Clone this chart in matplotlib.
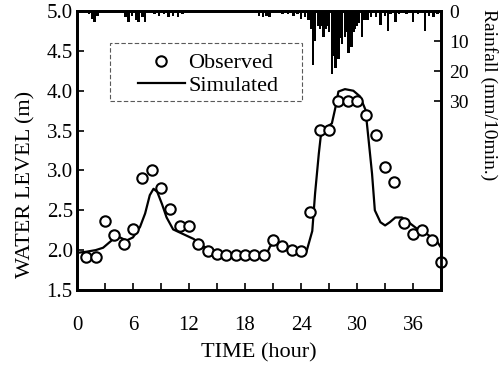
import numpy as np
import matplotlib
matplotlib.use("Agg")
import matplotlib.pyplot as plt
from matplotlib.patches import Rectangle
from matplotlib.ticker import MultipleLocator

plt.rcParams['font.family'] = ['Liberation Serif', 'DejaVu Serif']

# observed water level, hourly
obs_t = list(range(1, 40))
obs_h = [1.91, 1.91, 2.37, 2.19, 2.08, 2.26, 2.90, 3.01, 2.78, 2.51,
         2.30, 2.30, 2.08, 1.99, 1.95, 1.94, 1.94, 1.94, 1.94, 1.94,
         2.13, 2.05, 2.00, 1.99, 2.48, 3.51, 3.51, 3.87, 3.87, 3.87,
         3.70, 3.45, 3.04, 2.85, 2.34, 2.20, 2.25, 2.13, 1.85]

# simulated water level
sim_t = [0.3, 1.0, 2.0, 2.8, 3.9, 4.6, 5.3, 6.0, 6.75, 7.3, 7.8, 8.2, 8.6,
         9.1, 9.6, 10.3, 11.4, 12.5, 13.5, 14.6, 16.4, 18.5, 20.3, 20.7,
         21.4, 22.2, 23.0, 23.9, 24.6, 25.2, 25.5, 25.9, 26.1, 26.6, 27.3,
         27.7, 28.0, 28.7, 29.6, 30.3, 30.9, 31.2, 31.6, 31.9, 32.5, 33.0,
         33.5, 34.1, 34.8, 35.3, 36.4, 37.5, 38.5, 39.0]
sim_h = [1.97, 1.98, 2.00, 2.03, 2.14, 2.16, 2.12, 2.16, 2.29, 2.46, 2.69,
         2.77, 2.73, 2.58, 2.41, 2.26, 2.20, 2.14, 2.05, 1.99, 1.95, 1.94,
         1.95, 2.05, 2.10, 2.05, 2.00, 1.95, 1.99, 2.24, 2.71, 3.21, 3.42,
         3.53, 3.59, 3.80, 3.99, 4.02, 4.00, 3.93, 3.76, 3.42, 2.96, 2.50,
         2.35, 2.31, 2.35, 2.41, 2.41, 2.37, 2.27, 2.20, 2.12, 2.03]

# rainfall (mm/10min)
rain_t = [1.3, 1.6, 1.9, 2.2, 5.2, 5.5, 5.9, 6.3, 6.6, 7.0, 7.3,
          8.3, 8.8, 9.3, 9.8, 10.3, 10.8, 11.3,
          19.5, 19.9, 20.3, 20.6, 22.0, 22.6, 23.2, 23.6, 24.0, 24.4,
          24.8, 25.1, 25.3, 25.5, 25.8, 26.0, 26.2, 26.4, 26.6, 26.8, 27.0,
          27.3, 27.5, 27.7, 28.0, 28.2, 28.4, 28.7, 28.9, 29.1, 29.4, 29.6,
          29.8, 30.0, 30.2, 30.5, 30.8, 31.1,
          31.5, 32.0, 32.5, 33.0, 33.3, 33.6, 34.1, 34.5, 35.3, 36.0, 36.5,
          37.3, 37.7, 38.2, 38.6]
rain_mm = [1, 2.5, 3.5, 1.5, 2, 3.5, 1.5, 3, 3.5, 2, 3.5,
           1, 1.5, 1, 2, 1.5, 2, 1,
           1.5, 2, 1.5, 2, 1, 1, 1.5, 1, 2.5, 2,
           3, 6, 18, 10, 5, 6, 5, 8.5, 6, 5, 7,
           21, 15, 19, 16, 9, 11, 8.5, 7, 14, 12, 7,
           6, 5, 4, 8.5, 3, 3,
           2, 2, 4.5, 1.5, 6.5, 1, 3.5, 1, 1, 3.5, 1,
           6.5, 1.5, 2, 1]

fig = plt.figure(figsize=(5.03, 3.68), dpi=100)
ax = fig.add_axes([0.153, 0.212, 0.724, 0.758])

ax.plot(sim_t, sim_h, color='black', lw=1.6, label='Simulated', zorder=2)
ax.plot(obs_t, obs_h, 'o', mfc='white', mec='black', ms=7.5, mew=1.5,
        label='Observed', zorder=3, clip_on=False)

ax.set_xlim(0, 39)
ax.set_ylim(1.5, 5.0)
ax.xaxis.set_major_locator(MultipleLocator(6))
ax.xaxis.set_minor_locator(MultipleLocator(3))
ax.tick_params(axis='x', which='both', direction='in', length=5, width=1.2,
               pad=19, labelsize=15)
ax.tick_params(axis='y', direction='in', length=5, width=1.2, pad=3,
               labelsize=15)
yt = np.arange(1.5, 5.01, 0.5)
ax.set_yticks(yt)
ax.set_yticklabels(['%.1f' % v for v in yt])
ax.set_xlabel('TIME (hour)', fontsize=16, labelpad=6)
ax.set_ylabel('WATER LEVEL (m)', fontsize=16)
ax.yaxis.set_label_coords(-0.115, 0.38)

for s in ax.spines.values():
    s.set_linewidth(2)

# legend without frame, frame drawn as its own dashed box
handles, labels = ax.get_legend_handles_labels()
leg = ax.legend(handles[::-1], labels[::-1], loc='upper left',
                bbox_to_anchor=(0.168, 0.85), fontsize=16, frameon=False,
                handlelength=2.1, handletextpad=0.15, borderpad=0,
                labelspacing=0.1, borderaxespad=0)
ax.add_patch(Rectangle((0.091, 0.677), 0.527, 0.208, transform=ax.transAxes,
                       fill=False, edgecolor='0.35', lw=0.8,
                       linestyle=(0, (4, 2)), zorder=4))

ax2 = ax.twinx()
ax2.bar(rain_t, rain_mm, width=0.26, color='black', align='center')
ax2.set_ylim(93, 0)
ax2.set_yticks([0, 10, 20, 30])
ax2.tick_params(axis='y', direction='in', length=5, width=1.2, pad=6,
                labelsize=14)
ax2.set_ylabel('Rainfall (mm/10min.)', fontsize=14, rotation=-90)
ax2.yaxis.set_label_coords(1.155, 0.70)
for s in ax2.spines.values():
    s.set_linewidth(2)

fig.savefig('out.png', dpi=100)
